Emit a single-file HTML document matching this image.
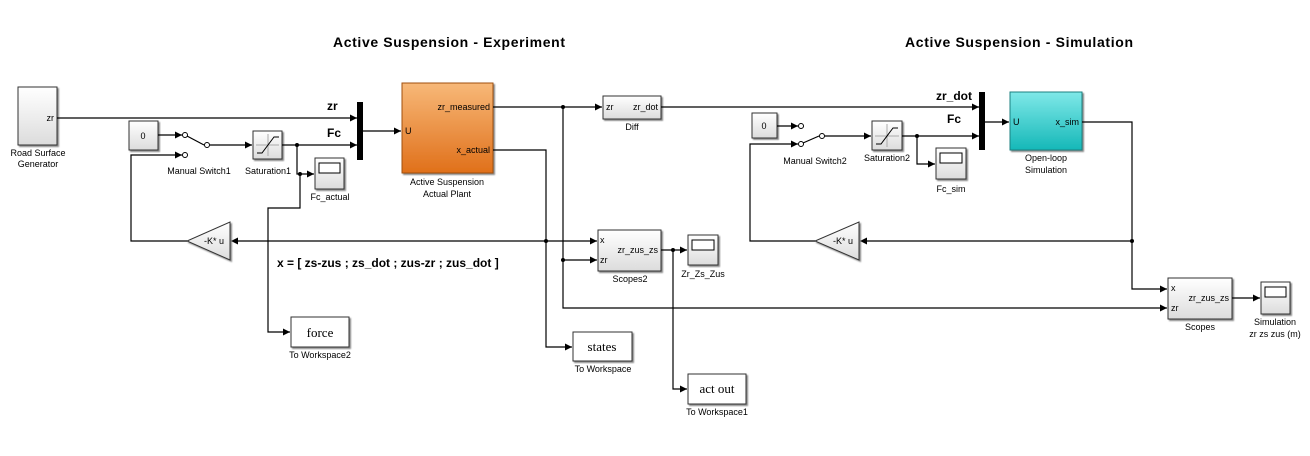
<!DOCTYPE html>
<html><head><meta charset="utf-8"><style>
html,body{margin:0;padding:0;background:#fff;}
svg{display:block;font-family:"Liberation Sans",Arial,sans-serif;}
.l{stroke:#000;stroke-width:1.2;fill:none;}
.t{font-size:9px;fill:#000;}
.c{font-size:9px;fill:#000;text-anchor:middle;}
.b{font-size:12px;font-weight:bold;fill:#000;}
.blk{fill:url(#gg);stroke:#333;stroke-width:1;}
</style></head><body>
<svg width="1310" height="456" viewBox="0 0 1310 456" xmlns="http://www.w3.org/2000/svg">
<defs>
<linearGradient id="gg" x1="0" y1="0" x2="0" y2="1"><stop offset="0" stop-color="#fff"/><stop offset="1" stop-color="#dcdcdc"/></linearGradient>
<linearGradient id="og" x1="0" y1="0" x2="0" y2="1"><stop offset="0" stop-color="#f7b878"/><stop offset="1" stop-color="#e0701a"/></linearGradient>
<linearGradient id="cg" x1="0" y1="0" x2="0" y2="1"><stop offset="0" stop-color="#7fe8e8"/><stop offset="1" stop-color="#15b8b8"/></linearGradient>
<marker id="a" markerWidth="8" markerHeight="8" refX="7" refY="4" orient="auto" markerUnits="userSpaceOnUse"><path d="M0,0.5 L7,4 L0,7.5z" fill="#000"/></marker>
<filter id="sh"><feDropShadow dx="1.5" dy="1.5" stdDeviation="0.8" flood-color="#888"/></filter>
</defs>
<rect width="1310" height="456" fill="#fff"/>

<text x="333" y="47" font-size="14" font-weight="bold" textLength="232">Active Suspension - Experiment</text>
<text x="905" y="47" font-size="14" font-weight="bold" textLength="228">Active Suspension - Simulation</text>

<!-- Road surface -->
<rect x="18" y="87" width="39" height="58" class="blk" filter="url(#sh)"/>
<text x="54" y="121" class="t" text-anchor="end">zr</text>
<text x="38" y="156" class="c">Road Surface</text>
<text x="38" y="167" class="c">Generator</text>
<path class="l" d="M57,118 H357" marker-end="url(#a)"/>
<text x="327" y="110" class="b">zr</text>
<text x="327" y="137" class="b">Fc</text>
<rect x="357" y="102" width="6" height="58" fill="#000"/>
<path class="l" d="M363,131 H401" marker-end="url(#a)"/>

<!-- constant 0 -->
<rect x="129" y="121" width="29" height="29" class="blk" filter="url(#sh)"/>
<text x="143" y="139" class="c">0</text>
<path class="l" d="M158,135 H182" marker-end="url(#a)"/>
<circle cx="185" cy="135" r="2.5" fill="#fff" stroke="#000"/>
<circle cx="185" cy="155" r="2.5" fill="#fff" stroke="#000"/>
<line x1="187" y1="136" x2="204" y2="145" stroke="#000" stroke-width="1.2"/>
<circle cx="207" cy="145" r="2.5" fill="#fff" stroke="#000"/>
<path class="l" d="M210,145 H252" marker-end="url(#a)"/>
<text x="199" y="174" class="c">Manual Switch1</text>
<rect x="253" y="131" width="29" height="28" class="blk" filter="url(#sh)"/>
<line x1="268" y1="134" x2="268" y2="156" stroke="#aaa"/><line x1="256" y1="145" x2="279" y2="145" stroke="#aaa"/>
<path d="M257,153 H262 L274,137 H279" stroke="#000" fill="none"/>
<text x="268" y="174" class="c">Saturation1</text>
<path class="l" d="M282,145 H357" marker-end="url(#a)"/>
<circle cx="297" cy="145" r="2" fill="#000"/>
<path class="l" d="M297,145 V174 H314" marker-end="url(#a)"/>
<circle cx="300" cy="174" r="2" fill="#000"/>
<path class="l" d="M300,174 V208 H268 V332 H290" marker-end="url(#a)"/>
<rect x="315" y="158" width="29" height="31" class="blk" filter="url(#sh)"/>
<rect x="319" y="163" width="21" height="10" fill="#fff" stroke="#000"/>
<text x="330" y="200" class="c">Fc_actual</text>

<!-- plant -->
<rect x="402" y="83" width="91" height="90" fill="url(#og)" stroke="#a05010" filter="url(#sh)"/>
<text x="405" y="134" class="t">U</text>
<text x="490" y="110" class="t" text-anchor="end">zr_measured</text>
<text x="490" y="153" class="t" text-anchor="end">x_actual</text>
<text x="447" y="185" class="c">Active Suspension</text>
<text x="447" y="197" class="c">Actual Plant</text>

<path class="l" d="M493,107 H602" marker-end="url(#a)"/>
<circle cx="563" cy="107" r="2" fill="#000"/>
<path class="l" d="M563,107 V308 H1167" marker-end="url(#a)"/>
<circle cx="563" cy="260" r="2" fill="#000"/>
<path class="l" d="M563,260 H597" marker-end="url(#a)"/>
<path class="l" d="M493,150 H546 V347 H572" marker-end="url(#a)"/>
<circle cx="546" cy="241" r="2" fill="#000"/>
<path class="l" d="M546,241 H597" marker-end="url(#a)"/>
<path class="l" d="M546,241 H231" marker-end="url(#a)"/>
<polygon points="230,222 230,260 187,241" fill="url(#gg)" stroke="#333" filter="url(#sh)"/>
<text x="214" y="244" class="c">-K* u</text>
<path class="l" d="M187,241 H131 V155 H182" marker-end="url(#a)"/>
<text x="277" y="267" class="b">x = [ zs-zus ; zs_dot ; zus-zr ; zus_dot ]</text>

<!-- Diff -->
<rect x="603" y="96" width="58" height="23" class="blk" filter="url(#sh)"/>
<text x="606" y="110" class="t">zr</text>
<text x="658" y="110" class="t" text-anchor="end">zr_dot</text>
<text x="632" y="130" class="c">Diff</text>

<!-- Scopes2 -->
<rect x="598" y="230" width="63" height="41" class="blk" filter="url(#sh)"/>
<text x="600" y="243" class="t">x</text>
<text x="600" y="263" class="t">zr</text>
<text x="658" y="253" class="t" text-anchor="end">zr_zus_zs</text>
<text x="630" y="282" class="c">Scopes2</text>
<path class="l" d="M661,250 H687" marker-end="url(#a)"/>
<circle cx="673" cy="250" r="2" fill="#000"/>
<path class="l" d="M673,250 V389 H687" marker-end="url(#a)"/>
<rect x="688" y="235" width="30" height="30" class="blk" filter="url(#sh)"/>
<rect x="692" y="240" width="22" height="10" fill="#fff" stroke="#000"/>
<text x="703" y="277" class="c">Zr_Zs_Zus</text>

<!-- workspaces -->
<rect x="291" y="317" width="58" height="30" fill="#fff" stroke="#333" filter="url(#sh)"/>
<text x="320" y="337" font-family="Liberation Serif,serif" font-size="13" text-anchor="middle">force</text>
<text x="320" y="358" class="c">To Workspace2</text>
<rect x="573" y="332" width="59" height="29" fill="#fff" stroke="#333" filter="url(#sh)"/>
<text x="602" y="351" font-family="Liberation Serif,serif" font-size="13" text-anchor="middle">states</text>
<text x="603" y="372" class="c">To Workspace</text>
<rect x="688" y="374" width="58" height="30" fill="#fff" stroke="#333" filter="url(#sh)"/>
<text x="717" y="393" font-family="Liberation Serif,serif" font-size="13" text-anchor="middle">act out</text>
<text x="717" y="415" class="c">To Workspace1</text>

<!-- Simulation side -->
<path class="l" d="M661,107 H979" marker-end="url(#a)"/>
<text x="972" y="100" class="b" text-anchor="end">zr_dot</text>
<text x="947" y="123" class="b">Fc</text>
<rect x="979" y="92" width="6" height="58" fill="#000"/>
<path class="l" d="M985,122 H1009" marker-end="url(#a)"/>
<rect x="752" y="113" width="25" height="25" class="blk" filter="url(#sh)"/>
<text x="764" y="129" class="c">0</text>
<path class="l" d="M777,126 H798" marker-end="url(#a)"/>
<circle cx="801" cy="126" r="2.5" fill="#fff" stroke="#000"/>
<circle cx="801" cy="144" r="2.5" fill="#fff" stroke="#000"/>
<line x1="803" y1="143" x2="819" y2="136" stroke="#000" stroke-width="1.2"/>
<circle cx="822" cy="136" r="2.5" fill="#fff" stroke="#000"/>
<path class="l" d="M825,136 H871" marker-end="url(#a)"/>
<text x="815" y="164" class="c">Manual Switch2</text>
<rect x="872" y="121" width="30" height="29" class="blk" filter="url(#sh)"/>
<line x1="887" y1="124" x2="887" y2="147" stroke="#aaa"/><line x1="875" y1="136" x2="899" y2="136" stroke="#aaa"/>
<path d="M876,144 H881 L893,128 H898" stroke="#000" fill="none"/>
<text x="887" y="161" class="c">Saturation2</text>
<path class="l" d="M902,136 H979" marker-end="url(#a)"/>
<circle cx="917" cy="136" r="2" fill="#000"/>
<path class="l" d="M917,136 V164 H935" marker-end="url(#a)"/>
<rect x="936" y="148" width="30" height="31" class="blk" filter="url(#sh)"/>
<rect x="940" y="153" width="22" height="10" fill="#fff" stroke="#000"/>
<text x="951" y="192" class="c">Fc_sim</text>

<rect x="1010" y="92" width="72" height="58" fill="url(#cg)" stroke="#1a8080" filter="url(#sh)"/>
<text x="1013" y="125" class="t">U</text>
<text x="1079" y="125" class="t" text-anchor="end">x_sim</text>
<text x="1046" y="161" class="c">Open-loop</text>
<text x="1046" y="173" class="c">Simulation</text>

<path class="l" d="M1082,122 H1132 V289 H1167" marker-end="url(#a)"/>
<circle cx="1132" cy="241" r="2" fill="#000"/>
<path class="l" d="M1132,241 H860" marker-end="url(#a)"/>
<polygon points="859,222 859,260 815,241" fill="url(#gg)" stroke="#333" filter="url(#sh)"/>
<text x="843" y="244" class="c">-K* u</text>
<path class="l" d="M815,241 H750 V144 H798" marker-end="url(#a)"/>

<rect x="1168" y="278" width="64" height="41" class="blk" filter="url(#sh)"/>
<text x="1171" y="291" class="t">x</text>
<text x="1171" y="311" class="t">zr</text>
<text x="1229" y="301" class="t" text-anchor="end">zr_zus_zs</text>
<text x="1200" y="330" class="c">Scopes</text>
<path class="l" d="M1232,298 H1260" marker-end="url(#a)"/>
<rect x="1261" y="282" width="29" height="32" class="blk" filter="url(#sh)"/>
<rect x="1265" y="287" width="21" height="10" fill="#fff" stroke="#000"/>
<text x="1275" y="325" class="c">Simulation</text>
<text x="1275" y="337" class="c">zr zs zus (m)</text>
</svg>
</body></html>
